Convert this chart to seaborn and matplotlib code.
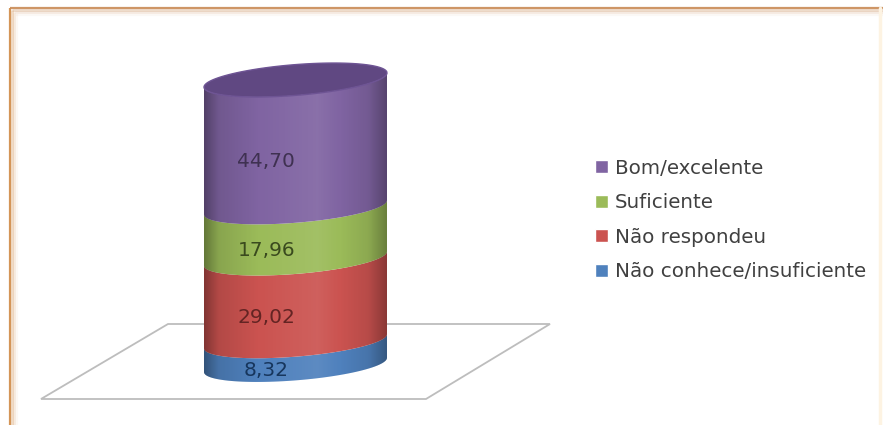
import numpy as np
import pandas as pd
import matplotlib.pyplot as plt
import seaborn as sns
from matplotlib.patches import PathPatch, Patch, Polygon
from matplotlib.path import Path

sns.set_theme(style="white")

# Data
categorias = ["Não conhece/insuficiente", "Não respondeu", "Suficiente", "Bom/excelente"]
valores = [8.32, 29.02, 17.96, 44.70]
rotulos = ["8,32", "29,02", "17,96", "44,70"]

cores = ["#4F81BD", "#CB5350", "#9BBB59", "#8064A2"]
cores_texto = ["#17365D", "#632423", "#3A4A1E", "#3F3151"]

W, H = 883, 425

fig = plt.figure(figsize=(W / 100, H / 100), dpi=100, facecolor="white")

# background layer in pixels: frame + floor
bg = fig.add_axes([0, 0, 1, 1])
bg.set_xlim(0, W)
bg.set_ylim(H, 0)
bg.axis("off")

for i, (alpha, lw) in enumerate([(0.9, 1.6), (0.3, 2.0), (0.12, 2.0), (0.06, 3.0)]):
    d = 2 * i
    bg.plot([10 + d, 10 + d], [H, 8 + d], color="#D08A45", alpha=alpha, lw=lw, solid_capstyle="butt")
    bg.plot([10 + d, W], [8 + d, 8 + d], color="#C98B55", alpha=alpha, lw=lw, solid_capstyle="butt")
bg.plot([880, 880], [8, H], color="#FDF3E2", lw=2.5)

floor = Polygon([(168, 324), (550, 324), (426, 399), (41, 399)], closed=True,
                facecolor="white", edgecolor="#BDBDBD", lw=1.3)
bg.add_patch(floor)

# cylinder axes: y is the percentage, x spans the cylinder width
ax = fig.add_axes([204 / W, 1 - 365 / H, 183 / W, (365 - 80) / H])
ax.patch.set_alpha(0)

base = 0
for cat, val, cor in zip(categorias, valores, cores):
    df = pd.DataFrame({"grupo": ["a"], "valor": [val]})
    sns.barplot(data=df, x="grupo", y="valor", bottom=base, width=1, color=cor,
                saturation=1, ax=ax)
    base += val

ax.set_xlim(-0.5, 0.5)
ax.set_ylim(0, 100)
ax.axis("off")

inclina = 2.5
curva = 5.4


def arco(nivel, t):
    return np.column_stack([0.5 * np.cos(t), nivel + inclina * np.cos(t) - curva * np.sin(t)])


frente = np.linspace(np.pi, 0, 60)
barras = list(ax.patches)
for bar, cor, rot, cor_txt in zip(barras, cores, rotulos, cores_texto):
    y0 = bar.get_y()
    y1 = y0 + bar.get_height()
    bar.remove()
    pts = np.vstack([arco(y0, frente), arco(y1, frente[::-1])])
    ax.add_patch(PathPatch(Path(pts), facecolor=cor, edgecolor="none", clip_on=False, zorder=2))
    ax.text(-0.16, (y0 + y1) / 2 - 6.2, rot, ha="center", va="center", fontsize=14.5,
            color=cor_txt, zorder=5, clip_on=False)

# side shading
total = sum(valores)
contorno = np.vstack([arco(0, frente), arco(total, frente[::-1])])
clip = PathPatch(Path(contorno), transform=ax.transData, facecolor="none", edgecolor="none")
ax.add_patch(clip)
xs = np.linspace(0, 1, 256)
sombra = np.interp(xs, [0, 0.08, 0.3, 0.62, 0.9, 1], [0.36, 0.12, 0.0, -0.08, 0.1, 0.32])
rgba = np.zeros((1, 256, 4))
rgba[..., :3] = (sombra < 0)[None, :, None] * 1.0
rgba[..., 3] = np.abs(sombra)
im = ax.imshow(rgba, extent=[-0.5, 0.5, -10, 110], aspect="auto", zorder=3)
im.set_clip_box(fig.bbox)
im.set_clip_path(clip)
ax.set_xlim(-0.5, 0.5)
ax.set_ylim(0, 100)

# lid
volta = np.linspace(0, 2 * np.pi, 120)
ax.add_patch(PathPatch(Path(arco(total, volta)), facecolor="#604882", edgecolor="#6E5494",
                       lw=1.0, clip_on=False, zorder=4))

# legend
handles = [Patch(facecolor=c, label=n) for c, n in zip(cores[::-1], categorias[::-1])]
bg.legend(handles=handles, loc="center left", bbox_to_anchor=(595 / W, 1 - 220 / H),
          frameon=False, fontsize=14.3, labelcolor="#404040", handlelength=0.65,
          handleheight=0.65, handletextpad=0.35, labelspacing=0.78, borderpad=0, borderaxespad=0)

fig.savefig("out.png", dpi=100)
